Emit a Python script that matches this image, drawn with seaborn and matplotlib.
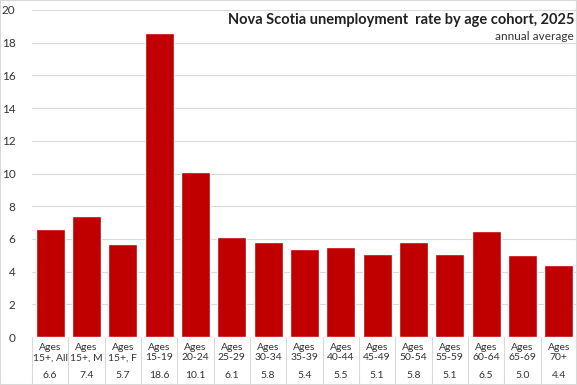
import pandas as pd
import matplotlib.pyplot as plt
import seaborn as sns
from matplotlib.patches import Rectangle

# -----------------------------
# Data
# -----------------------------
cohorts = ["15+, All", "15+, M", "15+, F", "15-19", "20-24", "25-29", "30-34",
           "35-39", "40-44", "45-49", "50-54", "55-59", "60-64", "65-69", "70+"]
rates = [6.6, 7.4, 5.7, 18.6, 10.1, 6.1, 5.8, 5.4, 5.5, 5.1, 5.8, 5.1, 6.5, 5.0, 4.4]
yticks = list(range(0, 21, 2))

df = pd.DataFrame({"cohort": cohorts, "rate": rates})

sns.set_style("white")
plt.rcParams['font.family'] = ['Lato', 'DejaVu Sans']

fig = plt.figure(figsize=(5.77, 3.85), dpi=100)
ax = fig.add_axes([32 / 577, 48 / 385, 545 / 577, 327 / 385])

sns.barplot(data=df, x="cohort", y="rate", color="#C00000", saturation=1,
            width=0.8, ax=ax, zorder=3)

ax.set_ylim(0, 20)
ax.set_xlim(-0.5, len(cohorts) - 0.5)
ax.set_yticks(yticks)
ax.set_yticklabels([str(t) for t in yticks], fontsize=8.5, color="#333333")
ax.tick_params(axis="y", length=0, pad=12)
ax.set_xticks([])
ax.set_xlabel("")
ax.set_ylabel("")
ax.grid(axis="y", color="#d9d9d9", linewidth=0.8, zorder=0)
for s in ax.spines.values():
    s.set_visible(False)

# table below the chart
trans = ax.get_xaxis_transform()
for i, (c, v) in enumerate(zip(cohorts, rates)):
    ax.text(i, -0.018, "Ages\n" + c, transform=trans, ha="center", va="top",
            fontsize=7.5, color="#333333", linespacing=1.2)
    ax.text(i, -0.105, f"{v:.1f}", transform=trans, ha="center", va="top",
            fontsize=7.5, color="#333333")
for i in range(len(cohorts) + 1):
    ax.plot([i - 0.5, i - 0.5], [0, -0.15], transform=trans, color="#d9d9d9",
            linewidth=0.8, clip_on=False)

fig.text(574 / 577, 1 - 20 / 385, "Nova Scotia unemployment  rate by age cohort, 2025",
         ha="right", va="center", fontsize=10.5, fontweight="bold", color="#222222")
fig.text(574 / 577, 1 - 37 / 385, "annual average", ha="right", va="center",
         fontsize=8.5, color="#333333")

fig.patches.append(Rectangle((0, 0), 1, 1, transform=fig.transFigure, fill=False,
                             edgecolor="#d9d9d9", linewidth=1.5))

fig.savefig("out.png", dpi=100)
